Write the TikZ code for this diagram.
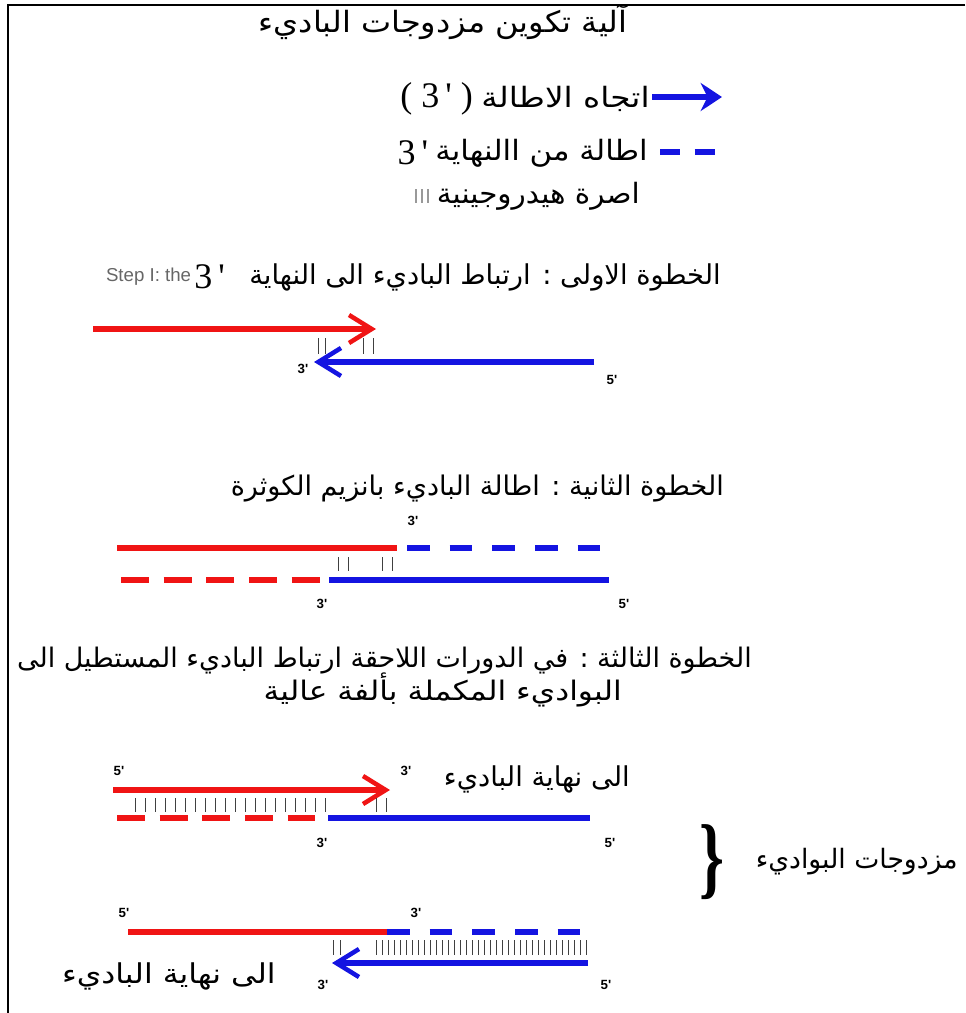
\documentclass[tikz,border=0pt]{standalone}
\usepackage{fontspec}
\setmainfont{Liberation Serif}
\newfontfamily\arabicfont[Script=Arabic]{DejaVu Sans}
\newfontfamily\primefont{Liberation Serif}
\newfontfamily\endfont{Liberation Sans}
\TeXXeTstate=1
\usetikzlibrary{arrows.meta, positioning}
\definecolor{strandred}{RGB}{240,20,20}
\definecolor{strandblue}{RGB}{20,20,225}

\begin{document}
\begin{tikzpicture}[
    x=0.75pt, y=-0.75pt,
    % Estilos
    frame/.style={line width=2.2pt, black},
    red strand/.style={line width=4.2pt, strandred},
    blue strand/.style={line width=4.2pt, strandblue},
    red ext/.style={line width=4.2pt, strandred, dash pattern=on 21pt off 11pt},
    blue ext/.style={line width=4.2pt, strandblue, dash pattern=on 17pt off 15pt},
    barb/.style={-{Straight Barb[length=17pt, width=21pt, line width=3.4pt]}},
    hbond/.style={line width=0.6pt, black!75},
    legend bond/.style={line width=1.4pt, black!40},
    end label/.style={font=\endfont\bfseries\fontsize{10}{10}\selectfont, inner sep=0pt},
    ar/.style={font=\arabicfont\fontsize{#1}{#1}\selectfont, inner sep=0pt},
    prime/.style={font=\primefont\fontsize{#1}{#1}\selectfont, inner sep=0pt}
]
    \useasboundingbox (0,0) rectangle (965,1013);
    \draw[frame] (965,5) -- (8,5) -- (8,1013);

    % =========================================================
    % Titulo y leyenda
    % =========================================================
    \node[ar=22, xscale=1.09] (title) at (443,22) {\beginR آلية تكوين مزدوجات الباديء\endR};

    \coordinate (lgA) at (652,97);
    \coordinate (lgB) at (722,97);
    \draw[blue strand, -{Stealth[length=16pt, width=21pt]}] (lgA) -- (lgB);
    \node[ar=21, xscale=1.17, anchor=east] (lg1) at (650,99) {\beginR اتجاه الاطالة\endR};
    \node[prime=27, left=6pt of lg1] (lg1p) {(\ 3\,'\ )};

    \coordinate (ldA) at (660,152);
    \coordinate (ldB) at (718,152);
    \draw[blue strand, dash pattern=on 15pt off 11pt] (ldA) -- (ldB);
    \node[ar=21, xscale=1.1, anchor=east] (lg2) at (648,153) {\beginR اطالة من االنهاية\endR};
    \node[prime=27, left=5pt of lg2] (lg2p) {3\,'};

    \node[ar=21, xscale=1.05, anchor=east] (lg3) at (640,196) {\beginR اصرة هيدروجينية\endR};
    \foreach \x in {416,422,428} \draw[legend bond] (\x,189) -- (\x,203);

    % =========================================================
    % Paso 1
    % =========================================================
    \node[ar=20.5, anchor=east] (step1) at (721,277) {\beginR الخطوة الاولى : ارتباط الباديء الى النهاية\endR};
    \node[prime=27, left=18pt of step1] (step1p) {3\,'};
    \node[font=\endfont\fontsize{14}{14}\selectfont, text=black!60, inner sep=0pt, left=2pt of step1p] (step1en) {Step I: the};

    \coordinate (r1s) at (93,329);
    \coordinate (r1e) at (376,329);
    \coordinate (b1s) at (594,362);
    \coordinate (b1e) at (314,362);
    \draw[red strand, barb] (r1s) -- (r1e);
    \draw[blue strand, barb] (b1s) -- (b1e);
    \foreach \x in {318,325,363,373} \draw[hbond] (\x,338) -- (\x,354);
    \node[end label] (t1a) at (303,369) {3'};
    \node[end label] (t1b) at (612,380) {5'};

    % =========================================================
    % Paso 2
    % =========================================================
    \node[ar=20.3, anchor=east] (step2) at (724,489) {\beginR الخطوة الثانية : اطالة الباديء بانزيم الكوثرة\endR};

    \coordinate (r2s) at (117,548);
    \coordinate (r2e) at (397,548);
    \coordinate (b2xs) at (407,548);
    \coordinate (b2xe) at (605,548);
    \coordinate (r2xs) at (121,580);
    \coordinate (r2xe) at (320,580);
    \coordinate (b2s) at (329,580);
    \coordinate (b2e) at (609,580);
    \draw[red strand] (r2s) -- (r2e);
    \draw[blue ext] (b2xs) -- (b2xe);
    \draw[red ext] (r2xs) -- (r2xe);
    \draw[blue strand] (b2s) -- (b2e);
    \foreach \x in {338,348,382,392} \draw[hbond] (\x,557) -- (\x,571);
    \node[end label] (t2a) at (413,521) {3'};
    \node[end label] (t2b) at (322,604) {3'};
    \node[end label] (t2c) at (624,604) {5'};

    % =========================================================
    % Paso 3
    % =========================================================
    \node[ar=20.2, anchor=east] (step3) at (752,661) {\beginR الخطوة الثالثة : في الدورات اللاحقة ارتباط الباديء المستطيل الى\endR};
    \node[ar=20.2, xscale=1.16, anchor=east] (step3b) at (622,690) {\beginR البواديء المكملة بألفة عالية\endR};

    % duplex superior
    \coordinate (r3s) at (113,790);
    \coordinate (r3e) at (390,790);
    \coordinate (r3xs) at (117,818);
    \coordinate (r3xe) at (315,818);
    \coordinate (b3s) at (328,818);
    \coordinate (b3e) at (590,818);
    \draw[red strand, barb] (r3s) -- (r3e);
    \draw[red ext] (r3xs) -- (r3xe);
    \draw[blue strand] (b3s) -- (b3e);
    \foreach \i in {0,...,19} \draw[hbond] (135+10*\i,798) -- (135+10*\i,812);
    \foreach \x in {376,386} \draw[hbond] (\x,798) -- (\x,812);
    \node[end label] (t3a) at (119,771) {5'};
    \node[end label] (t3b) at (406,771) {3'};
    \node[end label] (t3c) at (322,843) {3'};
    \node[end label] (t3d) at (610,843) {5'};
    \node[ar=20.5, anchor=east] (end3a) at (630,779) {\beginR الى نهاية الباديء\endR};

    % duplex inferior
    \coordinate (r4s) at (128,932);
    \coordinate (r4e) at (387,932);
    \coordinate (b4xs) at (387,932);
    \coordinate (b4xe) at (588,932);
    \coordinate (b4s) at (588,963);
    \coordinate (b4e) at (332,963);
    \draw[red strand] (r4s) -- (r4e);
    \draw[blue ext] (b4xs) -- (b4xe);
    \draw[blue strand, barb] (b4s) -- (b4e);
    \foreach \x in {333,340} \draw[hbond] (\x,940) -- (\x,955);
    \foreach \x in {376,382,...,588} \draw[hbond] (\x,940) -- (\x,955);
    \node[end label] (t4a) at (124,913) {5'};
    \node[end label] (t4b) at (416,913) {3'};
    \node[end label] (t4c) at (323,985) {3'};
    \node[end label] (t4d) at (606,985) {5'};
    \node[ar=20.5, xscale=1.15, anchor=east] (end3b) at (276,976) {\beginR الى نهاية الباديء\endR};

    % llave y etiqueta
    \node[font=\primefont\bfseries\fontsize{68}{68}\selectfont, inner sep=0pt, xscale=0.7] (brace) at (712,862) {\}};
    \node[ar=20, anchor=east] (pairs) at (958,862) {\beginR مزدوجات البواديء\endR};

\end{tikzpicture}
\end{document}
